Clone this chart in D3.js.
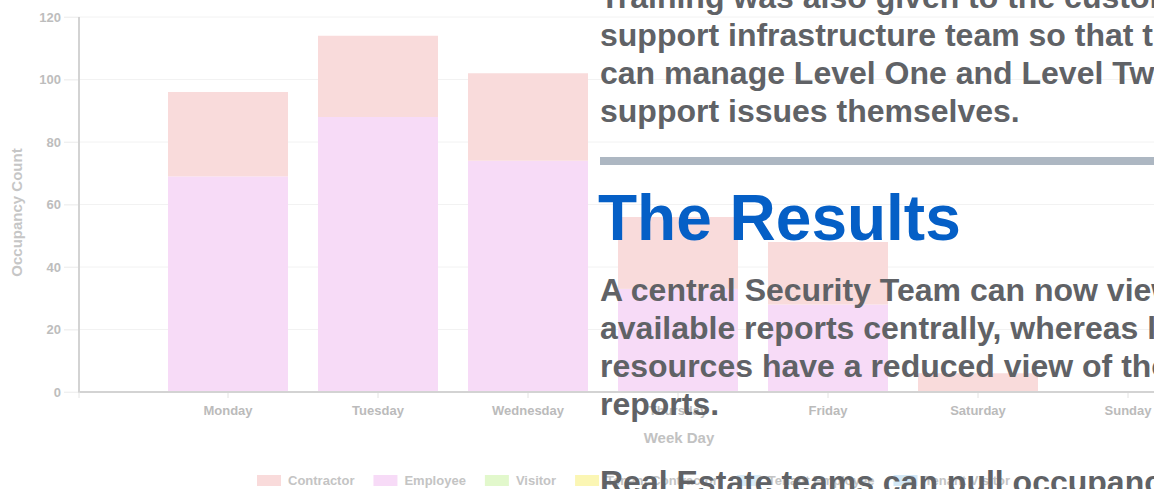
<!DOCTYPE html>
<html>
<head>
<meta charset="utf-8">
<script src="https://cdn.jsdelivr.net/npm/d3@7"></script>
<style>
  html, body { margin: 0; padding: 0; background: #fff; }
  svg { display: block; font-family: "Liberation Sans", Arial, Helvetica, sans-serif; }
</style>
</head>
<body>
<div id="view"></div>
<script>
// ---- data ----
const days = ["Monday", "Tuesday", "Wednesday", "Thursday", "Friday", "Saturday", "Sunday"];
const employee          = [69, 88, 74, 33, 28, 0, 0];
const contractor        = [27, 26, 28, 23, 20, 6, 0];
const visitor           = [0, 0, 0, 0, 0, 0, 0];
const tenantContractor  = [0, 0, 0, 0, 0, 0, 0];
const tenantEmployee    = [0, 0, 0, 0, 0, 0, 0];
const tenantVisitor     = [0, 0, 0, 0, 0, 0, 0];
const yTicks = [0, 20, 40, 60, 80, 100, 120];

const seriesNames  = ["Contractor", "Employee", "Visitor", "Tenant Contractor", "Tenant Employee", "Tenant Visitor"];
const seriesColors = ["#f9dbdb", "#f7dbf7", "#e2f8cc", "#fbf6b4", "#d9ecf8", "#d3e8f6"];
// stack order bottom -> top
const stackOrder = ["Employee", "Contractor", "Visitor", "Tenant Contractor", "Tenant Employee", "Tenant Visitor"];

const para1 = [
  "Training was also given to the customer's",
  "support infrastructure team so that they",
  "can manage Level One and Level Two",
  "support issues themselves."
];
const heading = "The Results";
const para2 = [
  "A central Security Team can now view all",
  "available reports centrally, whereas local",
  "resources have a reduced view of those",
  "reports."
];
const para3 = ["Real Estate teams can pull occupancy data"];

// ---- layout ----
const W = 1154, H = 489;
const svg = d3.select("#view").append("svg").attr("width", W).attr("height", H);
svg.append("rect").attr("width", W).attr("height", H).attr("fill", "#fff");

const axisX = 79, plotTop = 17, base = 392;
const y = d3.scaleLinear().domain([0, 120]).range([base, plotTop]);
const x = d3.scaleBand().domain(days).range([153, 1203]).paddingInner(0.2).paddingOuter(0.1);

const rows = days.map((d, i) => ({
  day: d,
  "Contractor": contractor[i], "Employee": employee[i], "Visitor": visitor[i],
  "Tenant Contractor": tenantContractor[i], "Tenant Employee": tenantEmployee[i], "Tenant Visitor": tenantVisitor[i]
}));
const colorOf = d3.scaleOrdinal().domain(seriesNames).range(seriesColors);

const chart = svg.append("g");

// gridlines
chart.append("g")
  .selectAll("line").data(yTicks).join("line")
  .attr("x1", axisX - 15).attr("x2", W)
  .attr("y1", d => y(d)).attr("y2", d => y(d))
  .attr("stroke", "#f2f2f2").attr("stroke-width", 1);

// bars
const stacked = d3.stack().keys(stackOrder)(rows);
chart.append("g").selectAll("g").data(stacked).join("g")
  .attr("fill", s => colorOf(s.key))
  .selectAll("rect").data(s => s).join("rect")
  .attr("x", d => x(d.data.day))
  .attr("width", x.bandwidth())
  .attr("y", d => y(d[1]))
  .attr("height", d => y(d[0]) - y(d[1]));

// y axis
const yAxis = chart.append("g").attr("transform", `translate(${axisX},0)`)
  .call(d3.axisLeft(y).tickValues(yTicks).tickSize(15).tickPadding(3));
yAxis.select(".domain").remove();
yAxis.selectAll(".tick line").attr("stroke", "#f0f0f0");
yAxis.selectAll("text").attr("fill", "#bdbdbd").style("font-size", "13px").style("font-weight", "bold")
  .style("font-family", "Liberation Sans, Arial, sans-serif");
chart.append("line").attr("x1", axisX).attr("x2", axisX).attr("y1", plotTop).attr("y2", base + 1)
  .attr("stroke", "#d3d3d3").attr("stroke-width", 2);

// x axis
const xAxis = chart.append("g").attr("transform", `translate(0,${base})`)
  .call(d3.axisBottom(x).tickSize(6).tickPadding(8));
xAxis.select(".domain").remove();
xAxis.selectAll(".tick line").attr("stroke", "#e2e2e2");
xAxis.selectAll("text").attr("fill", "#bbbbbb").style("font-size", "13px").style("font-weight", "bold")
  .style("font-family", "Liberation Sans, Arial, sans-serif");
chart.append("line").attr("x1", axisX).attr("x2", W).attr("y1", base).attr("y2", base)
  .attr("stroke", "#d3d3d3").attr("stroke-width", 2);
chart.append("line").attr("x1", axisX).attr("x2", axisX).attr("y1", base).attr("y2", base + 6)
  .attr("stroke", "#e6e6e6");

// axis titles
chart.append("text")
  .attr("transform", `translate(22,${(plotTop + base) / 2 + 8}) rotate(-90)`)
  .attr("text-anchor", "middle")
  .attr("fill", "#c6c6c6").style("font-size", "15px").style("font-weight", "bold")
  .text("Occupancy Count");
chart.append("text")
  .attr("x", 679).attr("y", 443).attr("text-anchor", "middle")
  .attr("fill", "#c2c2c2").style("font-size", "15px").style("font-weight", "bold")
  .text("Week Day");

// legend
const legend = chart.append("g").attr("transform", "translate(257,475)");
let lx = 0;
seriesNames.forEach((name, i) => {
  const item = legend.append("g").attr("transform", `translate(${lx},0)`);
  item.append("rect").attr("width", 24).attr("height", 11).attr("fill", seriesColors[i]);
  const t = item.append("text").attr("x", 31).attr("y", 10)
    .attr("fill", "#c4c4c4").style("font-size", "13px").style("font-weight", "bold")
    .text(name);
  lx += 31 + t.node().getComputedTextLength() + 19;
});

// ---- overlay article text ----
const article = svg.append("g").style("font-family", "Liberation Sans, Arial, Helvetica, sans-serif")
  .style("font-weight", "bold");
const tx = 600, fs = 32, lh = 38;
const textColor = "#606266";

article.selectAll("text.p1").data(para1).join("text").attr("class", "p1")
  .attr("x", tx).attr("y", (d, i) => 7.5 + i * lh)
  .attr("fill", textColor).style("font-size", fs + "px").text(d => d);

article.append("rect").attr("x", tx).attr("y", 157).attr("width", W - tx).attr("height", 8)
  .attr("fill", "#adb7c2");

article.append("text").attr("x", tx - 2).attr("y", 240)
  .attr("fill", "#055fc6").style("font-size", "64px").text(heading);

article.selectAll("text.p2").data(para2).join("text").attr("class", "p2")
  .attr("x", tx).attr("y", (d, i) => 301 + i * lh)
  .attr("fill", textColor).style("font-size", fs + "px").text(d => d);

article.selectAll("text.p3").data(para3).join("text").attr("class", "p3")
  .attr("x", tx).attr("y", 493)
  .attr("fill", textColor).style("font-size", fs + "px").text(d => d);
</script>
</body>
</html>
